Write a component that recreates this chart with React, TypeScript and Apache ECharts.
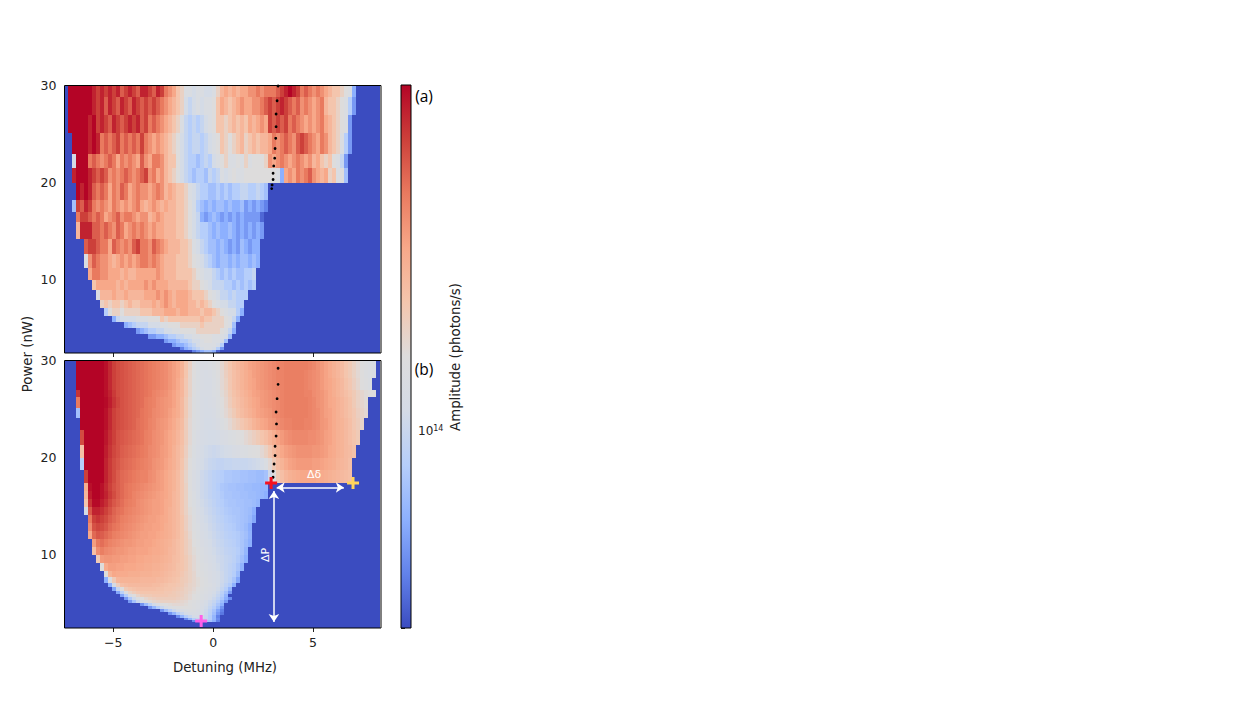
import React, { useEffect, useRef } from "react";
import * as echarts from "echarts";

const detuningMin = -7.44;
const detuningMax = 8.4;
const columnStep = 0.2;
const detuningTicks = [-5, 0, 5];
const powerTicks = [10, 20, 30];
const colorbarMin = 4e13;
const colorbarMax = 5e14;
const colorbarTicks = [4e13, 5e13, 6e13, 7e13, 8e13, 9e13, 1e14, 2e14, 3e14, 4e14, 5e14];

// Panel (a): '.' = bottom of the colour scale; A..T = 5%..100% of the colour scale
const topEdges = [30, 28.81, 26.96, 25.1, 22.94, 21.5, 19.95, 18.2, 16.96, 15.93, 14.18, 12.63, 11.19, 9.95, 8.92, 7.89, 7.06, 6.24, 5.62, 5.0, 4.38, 3.87, 3.45, 3.04, 2.73, 2.42];
const topRows = [
  ".TTTTTTSRS RSRSQRSRQS SRQSRPONLK IIHIIHHIKM NMNMNNOOPO PPPQRSTSRP QPOPONMLLK JID",
  ".TTTTTTSRS QSRQSRQSRQ RQRQPONMLK HGHIHIIJLN MLMNONNOOP QRQRSRQPQO PONOPMLLKJ IFC",
  ".TTTTTSTRS RQSRQRSRSQ RPQPONMLKI GFGFGHIJLL KLMLMLNMNO NRQRQRPQPO NONOPNMLKJ IC",
  "..TTTTSTSP QPQRPQPQPR PONONMLKJH GFGGFGHIJL KJKLMKLMLM MNPOPQPOQR QPONPOMLKI FC",
  "..HTTTPQPO PQPNPOPONQ ONPPOMLLJH GFFEFGFHIJ KIIJIKIJJJ KONOPONOPO NOMNLKLJIG C",
  "..STTTSRQR QOPOPQPOPQ ROPNOMLKJH GFEFFEGFGI HIJIIJJJJJ JJJIDNONPO PQONMNKLIJ E",
  "...TSTSQPQ PNPOQPNOPO ONOPOMNMLL KIHGFFEEFE FEFFGGFFGF E",
  "..ERQSRPOP ONPONONOPN MNONMNMMLL KJHFEDEDEE DEDDECDCDC B",
  "...PRRQPQP NOPQOPPONO OMNONMMMLL KJHGDCDEDC DCDCDCCCCA",
  "...MSSSQQP QPOQPNOPOP ONONNMMMLL KJHGFFEDED DEDCDCDCDC",
  ".....QRRQP PNQPOPOQRP POQPONMMML LKIHGFEEDE DCDCEDCDD",
  ".....IOQPO ONMNONONOP POPONMMMLL LKJIHGFEDE EDEDEEDED",
  "......NPPO ONNNMNMMNN NNNONMMMLL LLKJIHHGFE FEFEEFFG",
  ".......LNN NNNMNMNNNN ONONNNMMMM MLKKJIHGGG FFEFEFEF",
  "........IM MMNMMNMMMM NNNONONMNN NMLLLKJIHG GFGFFF",
  ".........K LKLLKLMLLM MMNMNONMNN NMMLMLKJIH HGGFF",
  ".......... FJKKJKKKKL LLMMMNNNMN NMMMLMMLKJ IHHFD",
  ".......... ..DGHHHHII IJJJLKLLLL LLLLMLLKKK JIGD",
  ".......... .....DEFGG GHHHIIJJJK KKKKLKKKKK JIE",
  ".......... ........CD EFFGGHHIIJ JJJKKKKKKJ IGD",
  ".......... .......... .CCDDEFFGG HHIIJJJIII HE",
  ".......... .......... .....CDDEF FGHHIJJIIH E",
  ".......... .......... .......CDD EFGHIIIIHF",
  ".......... .......... .........B DEFGHIIHFC",
  ".......... .......... .......... ..BCDEEDA.",
];

// Panel (b): each row is [first coloured column, then % of the colour scale per column]
const bottomEdges = [30, 28.97, 28.15, 26.92, 26.21, 25.08, 24.05, 22.82, 21.28, 19.95, 18.72, 17.38, 16.56, 15.74, 14.92, 14.1, 13.28, 12.46, 11.64, 10.82, 10, 9.18, 8.36, 7.74, 7.13, 6.72, 6.31, 6, 5.69, 5.38, 5.08, 4.77, 4.46, 4.15, 3.85, 3.54, 3.33, 3.13, 2.51];
const bottomRows = [
  [3, 100,100,100,100,100,100,100, 98,94,90,88,87,86,85,84,83,82, 81,80,79,78,77,76,74,72,70,66, 60,55,50,46,44,44,45,47,50,53, 57,60,63,65,67,69,71,72,73,74, 75,76,77,78,78,79,79,79,79,79, 79,78,77,75,73,71,69,67,65,63, 60,58,55,52,49,47,45,44],
  [3, 100,100,100,100,100,100,100, 98,94,90,88,87,86,85,84,83,82, 81,80,79,78,77,76,74,72,70,66, 60,54,50,46,44,43,44,46,49,52, 56,59,62,64,66,68,70,72,73,74, 75,76,77,78,78,79,79,79,79,79, 78,77,76,75,73,71,69,67,65,63, 60,58,55,52,50,47,45,44],
  [3, 100,100,100,100,100,100,100, 98,94,90,88,87,86,85,84,83,82, 81,80,79,78,77,76,74,72,69,65, 59,54,49,46,44,43,43,45,48,52, 55,59,62,64,66,68,70,71,73,74, 75,76,77,78,78,79,79,79,79,79, 78,77,76,75,73,71,70,68,66,64, 61,59,56,53,50,48,46],
  [3, 92,100,100,100,100,100,100, 98,95,91,88,87,86,85,84,83,82, 81,80,78,77,76,75,73,71,68,65, 59,54,49,45,43,43,43,45,47,51, 54,58,61,63,65,67,69,71,72,73, 74,75,76,77,78,79,79,79,79,79, 78,78,76,75,74,72,70,68,66,64, 62,60,58,55,53,51,50,50],
  [3, 80,100,100,100,100,100,100, 99,96,92,89,87,86,85,84,83,82, 80,79,78,76,75,74,73,71,68,64, 58,53,48,45,43,42,43,44,47,50, 53,57,60,62,64,66,68,70,71,73, 74,75,76,77,78,79,79,79,79,79, 79,78,77,75,74,72,70,69,67,65, 63,61,58,55,53,51],
  [3, 25,100,100,100,100,100,100, 98,94,90,88,87,86,85,84,83,81, 80,79,77,76,75,74,72,70,68,64, 58,53,48,45,43,42,42,43,46,49, 52,55,58,61,63,65,67,69,71,72, 73,74,76,77,78,79,79,79,79,79, 79,78,77,76,74,72,71,69,67,65, 63,61,59,56,54,52],
  [4, 100,100,100,100,100,100, 98,94,90,88,87,86,85,84,82,81, 80,78,77,75,74,73,71,69,66,63, 57,52,48,45,43,41,41,42,44,46, 49,52,55,57,59,61,63,66,68,70, 71,73,74,76,77,78,78,79,79,79, 78,78,77,76,74,73,71,69,67,66, 64,62,59,57,54],
  [4, 88,100,100,100,100,100, 97,93,90,87,86,85,84,83,82,81, 79,78,76,75,74,72,70,68,65,62, 57,52,47,44,42,41,40,40,41,43, 44,46,47,49,50,52,54,56,58,60, 62,65,68,71,73,75,76,77,77,77, 77,76,76,75,74,72,71,69,67,66, 64,62,60,58],
  [4, 62,100,100,100,100,100, 96,92,89,87,85,84,83,82,81,80, 79,77,76,75,73,72,70,67,64,61, 56,51,46,43,41,39,38,37,38,39, 40,41,43,44,45,46,48,49,50,52, 55,59,63,67,70,72,73,74,75,75, 75,75,74,74,73,72,70,69,67,66, 64,63,61],
  [4, 30,100,100,100,100,100, 95,91,88,86,84,83,82,81,80,79, 78,77,75,74,73,71,69,67,64,60, 55,50,45,42,40,38,36,35,34,34, 35,35,36,36,36,36,37,38,39,41, 45,52,58,63,66,69,71,72,73,73, 73,73,72,72,71,70,69,68,66,65, 64,62],
  [5, 90,100,100,100,100, 95,91,88,85,83,82,81,80,79,78, 78,76,75,73,72,70,68,66,63,59, 54,49,44,41,38,36,34,32,31,30, 28,28,27,27,26,26,25,25,24,24, 26,38,50,58,62,65,67,68,69,70, 70,70,70,69,69,68,67,66,65,64, 63,62],
  [5, 68,98,100,100,98, 94,90,87,85,83,81,80,79,78,77, 76,75,74,73,72,70,68,66,63,59, 55,49,44,41,38,36,34,32,30,28, 27,26,26,25,25,24,24,23,23,22, 22],
  [5, 65,96,100,100,98, 95,91,88,85,83,81,80,78,77,76, 75,74,73,72,71,70,68,65,63,59, 55,50,45,41,38,36,34,32,31,29, 27,27,26,26,25,25,24,24,23,22, 20],
  [5, 60,92,99,99,96, 93,89,86,84,82,80,79,78,76,75, 74,73,72,72,71,69,68,65,63,59, 55,50,46,42,39,37,35,33,31,30, 28,27,27,26,26,25,25,24,22],
  [5, 40,86,95,95,93, 90,87,84,82,81,79,78,77,76,75, 74,73,72,72,71,69,67,65,63,59, 55,51,47,43,40,38,36,34,32,31, 29,28,27,27,26,25,24,20],
  [6, 80,90,92,90, 88,85,83,81,79,78,77,76,75,74, 73,72,72,71,70,69,67,65,63,60, 56,52,48,44,41,39,37,35,33,32, 30,29,28,27,26,25,23,18],
  [6, 76,87,89,88, 86,83,81,80,78,77,76,75,74,73, 72,72,71,71,70,68,67,65,63,60, 56,52,48,45,42,40,38,36,34,33, 31,30,29,27,26,24,20],
  [6, 70,83,86,85, 83,81,79,78,77,76,75,74,73,72, 72,71,71,70,69,68,67,65,63,60, 57,53,49,46,43,41,39,37,35,34, 32,31,30,29,27,25,21],
  [7, 72,80,82, 80,78,77,76,75,74,74,73,72,72, 71,71,70,69,68,67,66,64,62,60, 57,54,50,47,44,42,40,38,36,35, 33,32,31,29,27,24,20],
  [7, 62,76,79, 77,76,75,74,74,73,72,72,71,71, 71,70,69,69,68,67,65,64,62,60, 57,54,51,48,45,43,41,39,37,36, 34,33,32,30,27,22],
  [8, 58,73, 74,74,73,73,72,72,71,71,70,70, 69,69,68,68,67,66,65,63,62,60, 58,55,52,49,46,44,42,40,38,37, 35,34,32,29,25,20],
  [9, 50, 69,72,72,71,71,70,70,70,69,69, 68,68,67,67,66,65,64,63,61,60, 58,55,52,50,47,45,43,41,39,37, 35,33,31,27,21],
  [10, 50,66,70,69,69,69,68,68,68,67, 67,67,66,66,65,64,63,62,61,59, 57,55,53,50,48,46,44,42,40,38, 35,33,30,24],
  [10, 20,45,58,65,66,66,66,66,66,65, 65,65,65,64,64,63,62,61,60,58, 57,55,53,51,49,47,44,42,40,38, 35,32,27,18],
  [11, 20,40,56,62,63,64,64,64,64, 64,64,63,63,62,61,60,60,59,58, 56,54,53,51,49,47,45,43,40,37, 33,29,20],
  [12, 18,36,50,58,60,61,62,62, 62,62,62,61,61,60,60,59,58,57, 55,54,52,50,48,46,44,42,39,35, 30,22],
  [13, 18,32,46,54,57,59,60, 60,60,60,60,60,59,59,58,57,56, 55,53,51,49,47,45,43,40,37,32, 26,15],
  [14, 18,30,42,50,54,57, 58,58,59,59,59,59,58,58,57,56, 54,52,50,48,46,44,42,39,35,30, 22],
  [15, 15,28,38,46,50, 53,55,56,57,57,57,57,57,56,55, 54,52,50,48,46,44,41,37,33,28, 20,12],
  [16, 15,26,36,43, 48,51,53,54,55,55,55,55,54,53, 52,50,48,46,44,41,38,35,30,24, 15],
  [19, 14, 24,32,39,44,48,50,51,52,52,52, 51,49,47,45,43,40,37,33,27,20],
  [21, 14,22,30,36,41,45,48,49,50, 50,49,47,45,42,39,35,30,24,14],
  [24, 14,24,31,37,41,44, 46,47,46,44,41,38,33,27,18,10],
  [26, 14,22,30,36, 40,43,44,43,41,37,32,25,15,8],
  [28, 12,22, 30,36,40,41,39,36,30,22,10],
  [30, 12,22,30,35,37,35,30,22,12],
  [32, 12,20,26,28,26,20,10],
  [0],
];

const topDots = [[3.25, 29.95], [3.2, 28.43], [3.15, 27.06], [3.15, 25.75], [3.13, 24.55], [3.1, 23.5], [3.08, 22.5], [3.03, 21.7], [3.0, 20.95], [3.0, 20.3], [2.95, 19.74], [2.93, 19.36]];
const bottomDots = [[3.25, 29.15], [3.25, 27.5], [3.2, 26.03], [3.15, 24.67], [3.17, 23.44], [3.15, 22.2], [3.1, 21.15], [3.1, 20.2], [3.05, 19.33], [3.0, 18.58], [3.0, 17.97]];
const redPoint = [2.9, 17.38];
const yellowPoint = [7.0, 17.38];
const magentaPoint = [-0.6, 3.23];
const deltaDetuningArrow = [[3.18, 16.92], [6.54, 16.92]];
const deltaPowerArrow = [[3.04, 16.56], [3.04, 3.13]];

const palette = [
  [0, "#3b4cc0"], [0.1, "#6282ea"], [0.2, "#8db0fe"], [0.3, "#b6cefa"], [0.4, "#d4dbe6"], [0.5, "#dddcdc"],
  [0.6, "#f4c5ad"], [0.7, "#f7a889"], [0.8, "#e97a5f"], [0.9, "#cc403a"], [1, "#b40426"],
] as [number, string][];

function colorAt(f: number) {
  for (let i = 1; i < palette.length; i++) {
    if (f <= palette[i][0] + 1e-9) {
      const [f0, c0] = palette[i - 1];
      const [f1, c1] = palette[i];
      const t = (f - f0) / (f1 - f0);
      const p = (s: string, k: number) => parseInt(s.substr(1 + 2 * k, 2), 16);
      const ch = [0, 1, 2].map((k) => Math.round(p(c0, k) + (p(c1, k) - p(c0, k)) * t));
      return `rgb(${ch[0]},${ch[1]},${ch[2]})`;
    }
  }
  return palette[palette.length - 1][1];
}

const COLS = 79;
function buildCells(rows: number[][], edges: number[]) {
  const cells: number[][] = [];
  rows.forEach((s, r) => {
    let start = 0;
    for (let i = 1; i <= COLS; i++) {
      if (i === COLS || s[i] !== s[start]) {
        cells.push([
          detuningMin + columnStep * start,
          Math.min(detuningMax, detuningMin + columnStep * i),
          edges[r + 1],
          edges[r],
          (s[start] || 0) / 100,
        ]);
        start = i;
      }
    }
  });
  return cells;
}
const fromLetters = (raw: string) => {
  const s = raw.replace(/ /g, "").padEnd(COLS, ".");
  return Array.from(s).map((ch) => (ch === "." ? 0 : (ch.charCodeAt(0) - 64) * 5));
};
const fromRun = (row: number[]) => {
  const out = new Array(COLS).fill(0);
  row.slice(1).forEach((v, i) => {
    out[row[0] + i] = v;
  });
  return out;
};

const renderCell = (_: any, api: any) => {
  const a = api.coord([api.value(0), api.value(3)]);
  const b = api.coord([api.value(1), api.value(2)]);
  const x0 = Math.round(a[0]);
  const y0 = Math.round(a[1]);
  const x1 = Math.round(b[0]);
  const y1 = Math.round(b[1]);
  return {
    type: "rect",
    shape: { x: x0, y: y0, width: x1 - x0, height: y1 - y0 },
    style: { fill: colorAt(api.value(4)) },
  };
};

const renderColorbar = (_: any, api: any) => {
  const a = api.coord([0, api.value(1)]);
  const b = api.coord([1, api.value(0)]);
  return {
    type: "rect",
    shape: { x: a[0], y: a[1], width: b[0] - a[0], height: b[1] - a[1] },
    style: {
      fill: new echarts.graphic.LinearGradient(0, 1, 0, 0, palette.map(([offset, color]) => ({ offset, color }))),
    },
  };
};

const PLUS = "path://M3.75 0h2.5v3.75H10v2.5H6.25V10h-2.5V6.25H0v-2.5h3.75z";
const font = "DejaVu Sans";
const tickColor = "#222";

function panelX(gridIndex: number, labelled: boolean) {
  return {
    type: "value", gridIndex, min: detuningMin, max: detuningMax,
    axisLine: { show: false }, splitLine: { show: false },
    axisTick: { show: true, length: 4, customValues: detuningTicks, lineStyle: { color: "#222", width: 1 } },
    axisLabel: {
      show: labelled, customValues: detuningTicks, margin: 8, fontFamily: font, fontSize: 12.5, color: tickColor,
      formatter: (v: number) => String(v).replace("-", "\u2212"),
    },
  };
}
function panelY(gridIndex: number, min: number) {
  return {
    type: "value", gridIndex, min, max: 30,
    axisLine: { show: false }, splitLine: { show: false },
    axisTick: { show: true, length: 4, customValues: powerTicks, lineStyle: { color: "#222", width: 1 } },
    axisLabel: { customValues: powerTicks, margin: 8, fontFamily: font, fontSize: 12.5, color: tickColor },
  };
}

function frame(x: number, y: number, width: number, height: number) {
  return { type: "rect", z: 100, shape: { x, y, width, height }, style: { fill: "none", stroke: "#000", lineWidth: 1 } };
}
function note(text: string, x: number, y: number, fontSize: number, fill: string, family = font, rotation = 0) {
  return {
    type: "text", z: 101, x, y, rotation,
    style: { text, fill, fontSize, fontFamily: family, align: "center", verticalAlign: "middle" },
  };
}

export default function App() {
  const ref = useRef<HTMLDivElement>(null);
  useEffect(() => {
    const chart = echarts.init(ref.current!, null, { renderer: "svg" });
    const cell = (xAxisIndex: number, data: number[][]) => ({
      type: "custom", xAxisIndex, yAxisIndex: xAxisIndex, renderItem: renderCell, data, z: 2, silent: true,
      encode: { x: [0, 1], y: [2, 3] }, clip: true,
    });
    const marks = (xAxisIndex: number, data: number[][], symbol: string, symbolSize: number, color: string) => ({
      type: "scatter", xAxisIndex, yAxisIndex: xAxisIndex, data, symbol, symbolSize, z: 5, silent: true,
      itemStyle: { color, opacity: 1 },
    });
    const arrow = (coords: number[][]) => ({ coords });
    chart.setOption({
      animation: false,
      backgroundColor: "#fff",
      grid: [
        { left: 64.5, top: 85.5, width: 316.5, height: 267.5 },
        { left: 64.5, top: 360, width: 316.5, height: 268 },
        { left: 401, top: 85, width: 10, height: 543 },
      ],
      xAxis: [
        panelX(0, false),
        panelX(1, true),
        { type: "value", gridIndex: 2, min: 0, max: 1, show: false },
      ],
      yAxis: [
        panelY(0, 2.4),
        panelY(1, 2.51),
        {
          type: "value", gridIndex: 2, position: "right",
          min: Math.log10(colorbarMin), max: Math.log10(colorbarMax),
          axisLine: { show: false }, splitLine: { show: false },
          axisTick: { show: true, length: 4, customValues: colorbarTicks.map((v) => Math.log10(v)), lineStyle: { color: "#222", width: 1 } },
          axisLabel: {
            customValues: [14], margin: 7,
            formatter: () => "{b|10}{s|14}",
            rich: {
              b: { fontFamily: font, fontSize: 12, color: tickColor },
              s: { fontFamily: font, fontSize: 8, color: tickColor, verticalAlign: "bottom", padding: [0, 0, 6, 0] },
            },
          },
        },
      ],
      series: [
        cell(0, buildCells(topRows.map(fromLetters), topEdges)),
        cell(1, buildCells(bottomRows.map(fromRun), bottomEdges)),
        marks(0, topDots, "circle", 2.8, "#000"),
        marks(1, bottomDots, "circle", 2.8, "#000"),
        marks(1, [redPoint], PLUS, 12, "#f5111e"),
        marks(1, [yellowPoint], PLUS, 12, "#ffd45c"),
        marks(1, [magentaPoint], PLUS, 12, "#ff5fe8"),
        {
          type: "lines", coordinateSystem: "cartesian2d", xAxisIndex: 1, yAxisIndex: 1, z: 4, silent: true,
          symbol: ["arrow", "arrow"], symbolSize: 8,
          lineStyle: { color: "#fff", width: 1.5, opacity: 1, curveness: 0 },
          data: [arrow(deltaDetuningArrow), arrow(deltaPowerArrow)],
        },
        {
          type: "custom", xAxisIndex: 2, yAxisIndex: 2, renderItem: renderColorbar, z: 2, silent: true,
          data: [[Math.log10(colorbarMin), Math.log10(colorbarMax)]], encode: { y: [0, 1] },
        },
      ],
      graphic: [
        frame(64.5, 85.5, 316.5, 267.5),
        frame(64.5, 360.5, 316.5, 267.5),
        frame(401, 85, 10, 543),
        note("Detuning (MHz)", 225, 667, 13.3, "#222"),
        note("Power (nW)", 27, 354, 13.3, "#222", font, Math.PI / 2),
        note("Amplitude (photons/s)", 455, 357, 13.3, "#222", font, Math.PI / 2),
        note("(a)", 424, 96, 15.5, "#000", "Open Sans"),
        note("(b)", 424, 369, 15.5, "#000", "Open Sans"),
        note("\u0394\u03b4", 314, 474, 11, "#fff"),
        note("\u0394P", 265, 555, 11, "#fff", font, Math.PI / 2),
      ],
    });
    return () => chart.dispose();
  }, []);
  return <div ref={ref} style={{ position: "fixed", left: 0, top: 0, width: 1253, height: 705 }} />;
}
